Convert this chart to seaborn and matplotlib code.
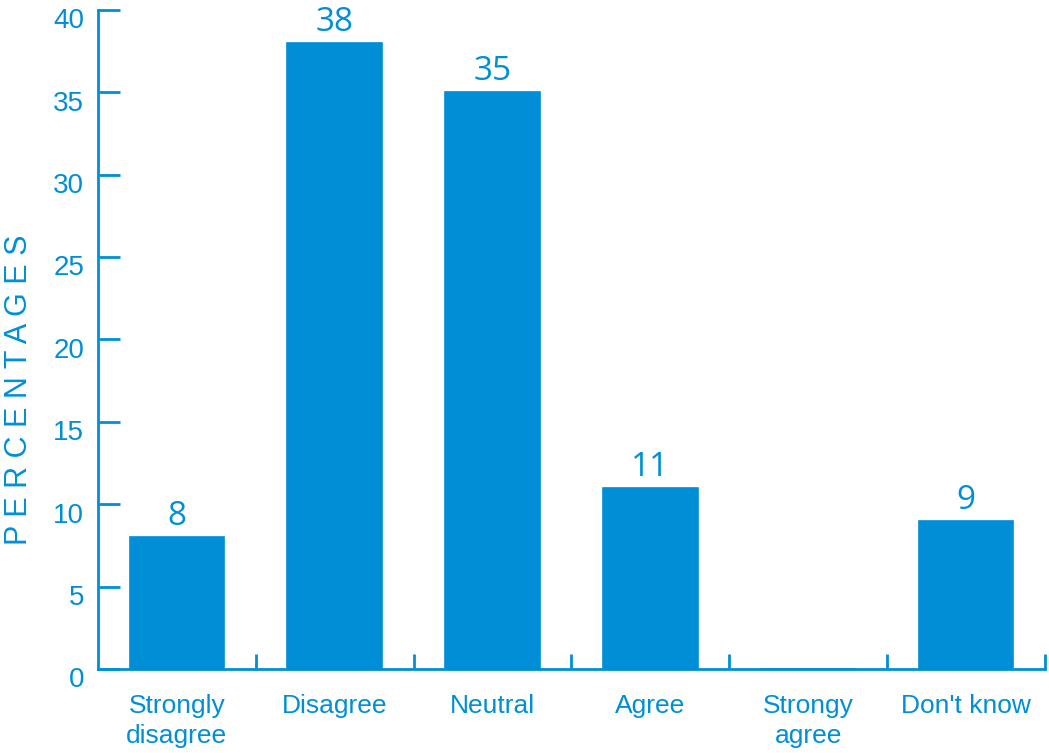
import numpy as np
import pandas as pd
import matplotlib
matplotlib.use('Agg')
import matplotlib.pyplot as plt
import matplotlib.transforms as mtransforms
import seaborn as sns

# data
categories = ['Strongly\ndisagree', 'Disagree', 'Neutral', 'Agree', 'Strongy\nagree', "Don't know"]
percentages = [8, 38, 35, 11, 0, 9]
y_ticks = [0, 5, 10, 15, 20, 25, 30, 35, 40]

blue = '#008fd6'

sns.set_theme(style='white')
plt.rcParams['font.family'] = ['Liberation Sans', 'DejaVu Sans']

df = pd.DataFrame({'cat': categories, 'pct': percentages})

fig = plt.figure(figsize=(10.49, 7.53), dpi=100)
ax = fig.add_axes([0.0934, 0.1116, 0.9028, 0.8751])

sns.barplot(data=df, x='cat', y='pct', color=blue, saturation=1, width=0.6,
            edgecolor=blue, linewidth=1.2, ax=ax)

# value labels above bars (skip the empty one)
labels = [str(v) if v > 0 else '' for v in percentages]
ax.bar_label(ax.containers[0], labels=labels, padding=3, color=blue,
             fontsize=24, family=['Open Sans', 'DejaVu Sans'])

ax.set_xlim(-0.5, len(categories) - 0.5)
ax.set_ylim(0, 40)
ax.set_yticks(y_ticks)

for side in ['top', 'right']:
    ax.spines[side].set_visible(False)
for side in ['left', 'bottom']:
    ax.spines[side].set_color(blue)
    ax.spines[side].set_linewidth(2)

ax.tick_params(axis='y', direction='in', length=16, width=2, color=blue,
               labelcolor=blue, labelsize=20, pad=10, left=True)
ax.tick_params(axis='x', which='major', length=0, labelcolor=blue,
               labelsize=19, pad=18)
ax.set_xticks(np.arange(0.5, len(categories)), minor=True)
ax.tick_params(axis='x', which='minor', direction='in', length=11, width=2,
               color=blue, bottom=True)
for lab in ax.get_xticklabels():
    lab.set_linespacing(1.3)

# y tick labels sit a little below their ticks in the reference
shift = mtransforms.ScaledTranslation(0, -6 / 72, fig.dpi_scale_trans)
for lab in ax.get_yticklabels():
    lab.set_transform(lab.get_transform() + shift)

ax.set_xlabel('')
ax.set_ylabel(' '.join('PERCENTAGES'), color=blue, fontsize=22)
ax.yaxis.set_label_coords(-0.068, 0.423)

fig.savefig('out.png', dpi=100)
